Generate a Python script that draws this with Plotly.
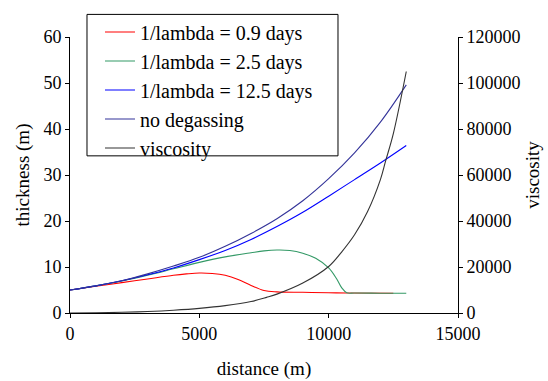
import plotly.graph_objects as go

# distance (m) and thickness (m) for each case
d_red = [0, 1000, 2000, 3000, 4000, 4500, 5000, 5500, 6000, 6500, 7000, 7500, 8000, 9000, 10000, 10700, 12500]
t_red = [5.0, 5.8, 6.6, 7.4, 8.2, 8.5, 8.7, 8.6, 8.2, 7.3, 6.0, 4.9, 4.6, 4.5, 4.4, 4.35, 4.3]

d_green = [0, 1000, 2000, 3000, 4000, 5000, 6000, 7000, 7500, 8000, 8500, 9000, 9500, 10000, 10300, 10500, 10700, 11000, 12000, 13000]
t_green = [5.0, 5.9, 6.95, 8.2, 9.6, 11.0, 12.2, 13.1, 13.5, 13.7, 13.6, 13.0, 11.9, 9.8, 7.5, 5.5, 4.4, 4.35, 4.3, 4.3]

d_blue = [0, 1000, 2000, 3000, 4000, 5000, 6000, 7000, 8000, 9000, 10000, 11000, 12000, 13000]
t_blue = [5.0, 5.9, 7.0, 8.3, 9.8, 11.6, 13.6, 16.0, 18.8, 21.9, 25.4, 29.0, 32.6, 36.4]

d_nodeg = [0, 1000, 2000, 3000, 4000, 5000, 6000, 7000, 8000, 9000, 10000, 11000, 12000, 13000]
t_nodeg = [5.0, 5.9, 7.0, 8.5, 10.2, 12.1, 14.5, 17.3, 20.5, 24.4, 29.2, 34.8, 41.5, 49.6]

d_visc = [0, 1000, 2000, 3000, 4000, 5000, 6000, 7000, 7600, 8000, 9000, 10000, 10500, 11000, 11500, 12000, 12200, 12500, 13000]
visc = [0, 100, 300, 650, 1200, 2000, 3200, 5000, 6800, 8200, 13000, 20200, 26500, 34000, 44000, 58000, 66000, 78000, 105000]

x_ticks = [0, 5000, 10000, 15000]
y_ticks = [0, 10, 20, 30, 40, 50, 60]
y2_ticks = [0, 20000, 40000, 60000, 80000, 100000, 120000]

FONT = "Liberation Serif"

fig = go.Figure()
fig.add_trace(go.Scatter(x=d_red, y=t_red, mode="lines", name="1/lambda = 0.9 days",
                         line=dict(color="#ff0000", width=1.1, shape="spline"), legendgroup="a"))
fig.add_trace(go.Scatter(x=d_green, y=t_green, mode="lines", name="1/lambda = 2.5 days",
                         line=dict(color="#339966", width=1.1, shape="spline"), legendgroup="b"))
fig.add_trace(go.Scatter(x=d_blue, y=t_blue, mode="lines", name="1/lambda = 12.5 days",
                         line=dict(color="#0000ff", width=1.1, shape="spline"), legendgroup="c"))
fig.add_trace(go.Scatter(x=d_nodeg, y=t_nodeg, mode="lines", name="no degassing",
                         line=dict(color="#333399", width=1.1, shape="spline"), legendgroup="d"))
fig.add_trace(go.Scatter(x=d_visc, y=visc, mode="lines", name="viscosity", yaxis="y2",
                         line=dict(color="#333333", width=1.1, shape="spline"), legendgroup="e"))

axis_common = dict(showline=True, linecolor="black", linewidth=1, ticks="outside",
                   ticklen=4, tickcolor="black", showgrid=False, zeroline=False,
                   automargin=False,
                   tickfont=dict(family=FONT, size=18, color="black"))
# inner half of the crossing tick marks
inner_common = dict(showline=False, ticks="inside", ticklen=4, tickcolor="black",
                    showgrid=False, zeroline=False, showticklabels=False, automargin=False)

fig.update_layout(
    width=548, height=381,
    margin=dict(l=70, r=90, t=32, b=68),
    paper_bgcolor="white", plot_bgcolor="white",
    font=dict(family=FONT, size=18, color="black"),
    xaxis=dict(range=[0, 15000], tickvals=x_ticks, tickformat="d",
               title=dict(text="distance (m)", font=dict(family=FONT, size=19), standoff=19),
               **axis_common),
    yaxis=dict(range=[0, 60], tickvals=y_ticks,
               title=dict(text="thickness (m)", font=dict(family=FONT, size=19), standoff=8),
               **axis_common),
    yaxis2=dict(range=[0, 120000], tickvals=y2_ticks,
                tickformat="d", overlaying="y", side="right",
                title=dict(text="viscosity", font=dict(family=FONT, size=19), standoff=6),
                **axis_common),
    xaxis2=dict(range=[0, 15000], tickvals=x_ticks, overlaying="x", side="bottom",
                anchor="y", **inner_common),
    yaxis3=dict(range=[0, 60], tickvals=y_ticks, overlaying="y", side="left",
                anchor="x", **inner_common),
    yaxis4=dict(range=[0, 120000], tickvals=y2_ticks, overlaying="y", side="right",
                anchor="x", **inner_common),
    shapes=[dict(type="rect", xref="paper", yref="paper",
                 x0=0.0438, x1=0.6907, y0=0.5694, y1=1.0819,
                 line=dict(color="black", width=1), fillcolor="white", layer="above")],
    legend=dict(x=0.0773, y=1.089, xanchor="left", yanchor="top",
                bgcolor="rgba(0,0,0,0)", borderwidth=0,
                font=dict(family=FONT, size=20, color="black"),
                tracegroupgap=0, traceorder="grouped", itemwidth=30),
    showlegend=True,
)

fig.write_html("out.html", config={"displayModeBar": False},
               post_script="document.body.style.margin='0';")
